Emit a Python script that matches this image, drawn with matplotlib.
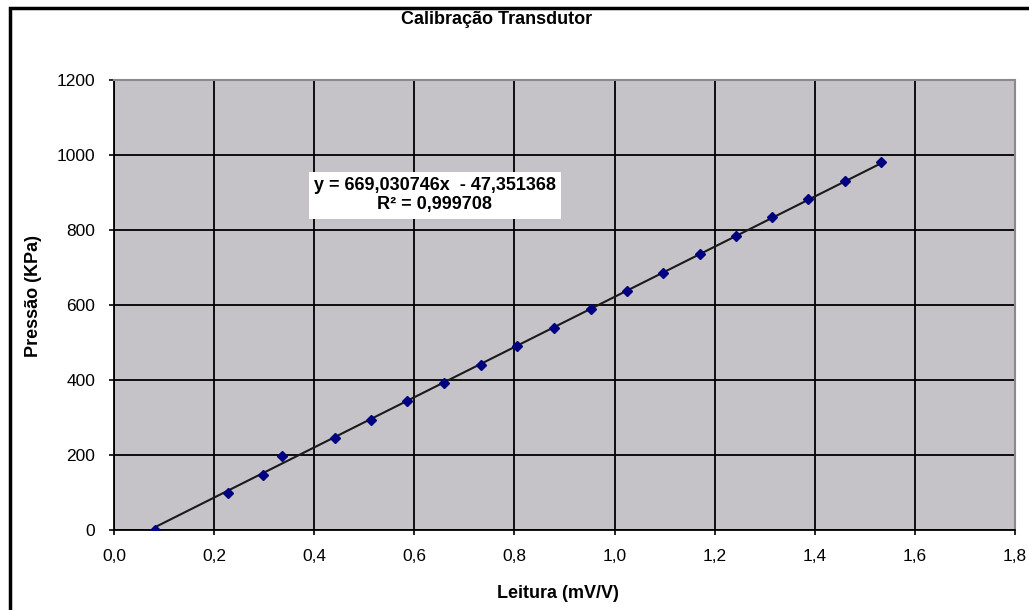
import matplotlib
matplotlib.use("Agg")
import matplotlib.pyplot as plt
import numpy as np
from matplotlib.patches import Rectangle
from matplotlib.ticker import FuncFormatter

plt.rcParams['font.family'] = ['Liberation Sans', 'DejaVu Sans']

# leituras (mV/V) e pressoes (KPa)
leitura = [0.082, 0.227, 0.298, 0.335, 0.442, 0.514, 0.585, 0.660, 0.734, 0.806,
           0.879, 0.952, 1.024, 1.096, 1.170, 1.242, 1.315, 1.387, 1.460, 1.533]
pressao = [0.0, 98.1, 147.1, 196.1, 245.2, 294.2, 343.2, 392.3, 441.3, 490.3,
           539.4, 588.4, 637.4, 686.5, 735.5, 784.5, 833.6, 882.6, 931.6, 980.7]

# linha de tendencia (Excel)
coef_a = 669.030746
coef_b = -47.351368
r2 = 0.999708

fig = plt.figure(figsize=(10.29, 6.10), dpi=100)
ax = fig.add_axes([114/1029, 1-530/610, (1015-114)/1029, (530-80)/610])

ax.set_facecolor('#c5c3c7')
x_fit = np.array([leitura[0], leitura[-1]])
ax.plot(x_fit, coef_a*x_fit + coef_b, color='#1a1a1a', lw=1.5, zorder=3)
ax.plot(leitura, pressao, 'D', color='#000080', ms=5.5, zorder=4)

ax.set_xlim(0, 1.8)
ax.set_ylim(0, 1200)
ax.set_xticks(np.arange(0, 1.81, 0.2))
ax.set_yticks(np.arange(0, 1201, 200))
ax.xaxis.set_major_formatter(FuncFormatter(lambda v, p: f"{v:.1f}".replace('.', ',')))
ax.grid(True, color='black', lw=1.3)
ax.set_axisbelow(True)
for s in ['top', 'right']:
    ax.spines[s].set_color('#8a8a8a')
    ax.spines[s].set_linewidth(1.5)
for s in ['left', 'bottom']:
    ax.spines[s].set_color('black')
    ax.spines[s].set_linewidth(1.3)
ax.tick_params(direction='out', length=3.6, width=1.2, labelsize=12.5, pad=10)

ax.set_xlabel("Leitura (mV/V)", fontsize=13, fontweight='bold')
ax.set_ylabel("Pressão (KPa)", fontsize=13, fontweight='bold')
ax.xaxis.set_label_coords((558-114)/901, -(594-530)/450)
ax.yaxis.set_label_coords((33-114)/901, (530-296)/450)
ax.xaxis.label.set_va('center')
ax.yaxis.label.set_va('center')

eq = f"y = {coef_a:.6f}x  - {abs(coef_b):.6f}".replace('.', ',') + "\n" + \
     f"R² = {r2:.6f}".replace('.', ',')
ax.text(0.641, 893, eq, ha='center', va='center', fontsize=13, fontweight='bold',
        linespacing=1.15, zorder=5,
        bbox=dict(facecolor='white', edgecolor='none', boxstyle='square,pad=0.3'))

fig.text(497/1029, 1-20/610, "Calibração Transdutor", ha='center', va='center',
         fontsize=13, fontweight='bold')

fig.patches.append(Rectangle((10/1029, -0.05), 1.1, 1.05-8/610, transform=fig.transFigure,
                             fill=False, edgecolor='black', lw=2.5))

fig.savefig("out.png", dpi=100)
